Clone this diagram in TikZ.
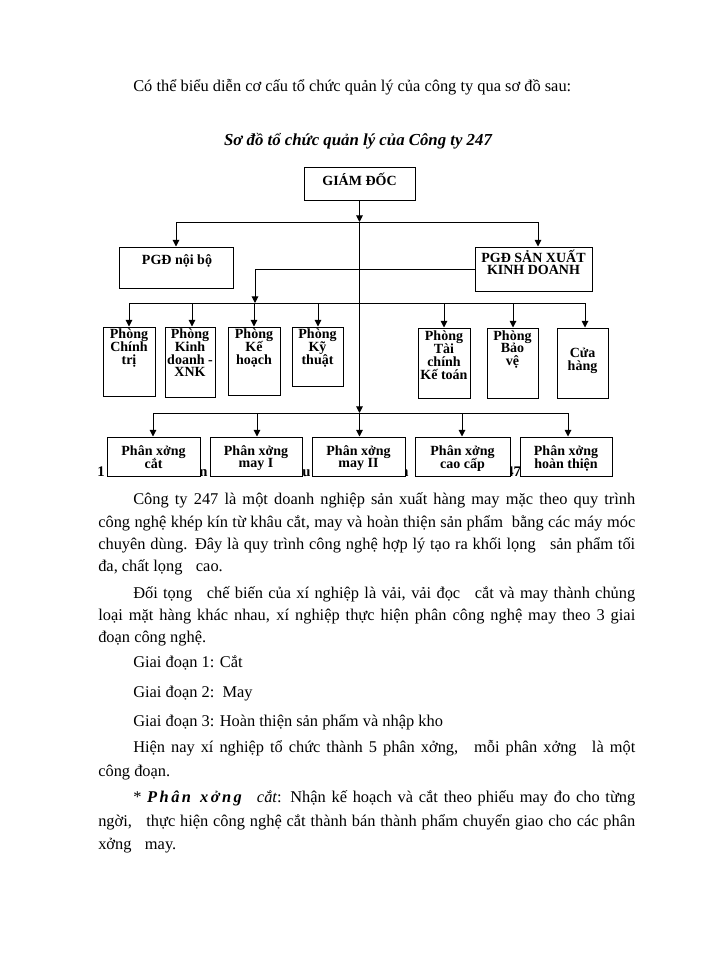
\documentclass[tikz,border=0pt]{standalone}
\usepackage{fontspec}
\setmainfont{Liberation Serif}
\usetikzlibrary{arrows.meta,fit}
\newcommand{\tb}[1]{\begin{tabular}[t]{@{}c@{}}#1\end{tabular}}
\tikzset{
  box/.style={draw, line width=0.75pt, fill=white, inner sep=0pt},
  ln/.style={line width=0.75pt},
  arr/.style={line width=0.75pt, -{Triangle[length=5pt,width=5pt]}},
  bt/.style={font=\fontsize{10.5}{8.25}\selectfont\bfseries, anchor=base, inner sep=0pt},
  body/.style={font=\fontsize{12.3}{14}\selectfont, anchor=base west, inner sep=0pt},
  hid/.style={font=\fontsize{11}{13}\selectfont\bfseries, anchor=base west, inner sep=0pt},
}
\begin{document}
\begin{tikzpicture}[x=0.75pt,y=-0.75pt]
\fill[white] (0,0) rectangle (700,960);
\useasboundingbox (0,0) rectangle (700,960);

% heading
\node[body] (intro) at (133,91) {Có thể biểu diễn cơ cấu tổ chức quản lý của công ty qua sơ đồ sau:};
\node[font=\fontsize{12.6}{14}\selectfont\bfseries\itshape, anchor=base, inner sep=0pt] (title) at (358,145) {Sơ đồ tổ chức quản lý của Công ty 247};

% caption hidden behind the bottom row
\node[hid] (h1) at (97,476) {1};
\node[hid] (h2) at (199,476) {n};
\node[hid] (h3) at (302,476) {u};
\node[hid] (h4) at (400,476) {n};
\node[hid] (h5) at (506,476) {47};

% connector junctions
\coordinate (j1) at (359.5,222);
\coordinate (jb) at (359.5,413);
\coordinate (tl) at (176,222);
\coordinate (tr) at (538,222);
\coordinate (mj) at (255,303);
\coordinate (m1) at (129,303);
\coordinate (m2) at (192,303);
\coordinate (m3) at (254,303);
\coordinate (m4) at (318,303);
\coordinate (m5) at (444,303);
\coordinate (m6) at (513,303);
\coordinate (m7) at (585,303);
\coordinate (n1) at (153,413);
\coordinate (n2) at (257,413);
\coordinate (n4) at (462,413);
\coordinate (n5) at (568,413);

% boxes
\node[box, fit={(304,167) (415,200)}] (gd) {};
\node[box, fit={(119,247) (233,288)}] (pn) {};
\node[box, fit={(475,247) (592,291)}] (ps) {};
\node[box, fit={(103,327) (155,396)}] (c1) {};
\node[box, fit={(165,327) (215,397)}] (c2) {};
\node[box, fit={(228,327) (280,395)}] (c3) {};
\node[box, fit={(292,327) (343,386)}] (c4) {};
\node[box, fit={(418,328) (470,398)}] (c5) {};
\node[box, fit={(487,328) (538,398)}] (c6) {};
\node[box, fit={(557,328) (608,398)}] (c7) {};
\node[box, fit={(107,437) (200,476)}] (b1) {};
\node[box, fit={(210,437) (302,476)}] (b2) {};
\node[box, fit={(312,437) (405,476)}] (b3) {};
\node[box, fit={(415,437) (510,476)}] (b4) {};
\node[box, fit={(520,437) (612,476)}] (b5) {};

% box texts
\node[bt] (gdt) at (359.5,185) {GIÁM ĐỐC};
\node[bt] (pnt) at (177,264) {PGĐ nội bộ};
\node[bt] (pst) at (533.5,262) {\tb{PGĐ SẢN XUẤT\\KINH DOANH}};
\node[bt] (c1t) at (129,338) {\tb{Phòng\\Chính\\trị}};
\node[bt] (c2t) at (190,338) {\tb{Phòng\\Kinh\\doanh -\\XNK}};
\node[bt] (c3t) at (254,338) {\tb{Phòng\\Kế\\hoạch}};
\node[bt] (c4t) at (317.5,338) {\tb{Phòng\\Kỹ\\thuật}};
\node[bt] (c5t) at (444,340) {\tb{Phòng\\Tài\\chính\\Kế toán}};
\node[bt] (c6t) at (512.5,340) {\tb{Phòng\\Bảo\\vệ}};
\node[bt] (c7t) at (582.5,357) {\tb{Cửa\\hàng}};
\node[bt] (b1t) at (153.5,455) {\tb{Phân xởng\\cắt}};
\node[bt] (b2t) at (256,455) {\tb{Phân xởng\\may I}};
\node[bt] (b3t) at (358.5,455) {\tb{Phân xởng\\may II}};
\node[bt] (b4t) at (462.5,455) {\tb{Phân xởng\\cao cấp}};
\node[bt] (b5t) at (566,455) {\tb{Phân xởng\\hoàn thiện}};

% connectors
\draw[arr] (gd.south) -- (j1);
\draw[arr] (j1) -- (jb);
\draw[ln] (tl) -- (tr);
\draw[arr] (tl) -- (pn.north);
\draw[arr] (tr) -- (tr |- ps.north);
\draw[arr] (ps.west) -| (mj);
\draw[ln] (m1) -- (m7);
\draw[arr] (m1) -- (m1 |- c1.north);
\draw[arr] (m2) -- (m2 |- c2.north);
\draw[arr] (m3) -- (m3 |- c3.north);
\draw[arr] (m4) -- (m4 |- c4.north);
\draw[arr] (m5) -- (m5 |- c5.north);
\draw[arr] (m6) -- (m6 |- c6.north);
\draw[arr] (m7) -- (m7 |- c7.north);
\draw[ln] (n1) -- (n5);
\draw[arr] (n1) -- (n1 |- b1.north);
\draw[arr] (n2) -- (n2 |- b2.north);
\draw[arr] (jb) -- (jb |- b3.north);
\draw[arr] (n4) -- (n4 |- b4.north);
\draw[arr] (n5) -- (n5 |- b5.north);

% body text
\node[body] (p1a) at (133,504) {\makebox[376.5pt][s]{Công ty 247 là một doanh nghiệp sản xuất hàng may mặc theo quy trình}};
\node[body] (p1b) at (98,527) {\makebox[402.75pt][s]{công nghệ khép kín từ khâu cắt, may và hoàn thiện sản phẩm\ \ bằng các máy móc}};
\node[body] (p1c) at (98,549) {\makebox[402.75pt][s]{chuyên dùng. Đây là quy trình công nghệ hợp lý tạo ra khối lọng\hspace{7pt} sản phẩm tối}};
\node[body] (p1d) at (98,571) {đa, chất lọng\hspace{7pt} cao.};
\node[body] (p2a) at (133,598) {\makebox[376.5pt][s]{Đối tọng\hspace{7pt} chế biến của xí nghiệp là vải, vải đọc\hspace{7pt} cắt và may thành chủng}};
\node[body] (p2b) at (98,620) {\makebox[402.75pt][s]{loại mặt hàng khác nhau, xí nghiệp thực hiện phân công nghệ may theo 3 giai}};
\node[body] (p2c) at (98,642) {đoạn công nghệ.};
\node[body] (g1) at (133,667) {Giai đoạn 1: Cắt};
\node[body] (g2) at (133,697) {Giai đoạn 2:\ \ May};
\node[body] (g3) at (133,726) {Giai đoạn 3: Hoàn thiện sản phẩm và nhập kho};
\node[body] (p3a) at (133,752) {\makebox[376.5pt][s]{Hiện nay xí nghiệp tổ chức thành 5 phân xởng,\hspace{7pt} mỗi phân xởng\hspace{7pt} là một}};
\node[body] (p3b) at (98,776) {công đoạn.};
\node[body] (p4a) at (133,802) {\makebox[376.5pt][s]{* {\bfseries\itshape\addfontfeature{LetterSpace=15}Phân xởng}\hspace{7pt} {\itshape cắt}: Nhận kế hoạch và cắt theo phiếu may đo cho từng}};
\node[body] (p4b) at (98,826) {\makebox[402.75pt][s]{ngời,\hspace{7pt} thực hiện công nghệ cắt thành bán thành phẩm chuyển giao cho các phân}};
\node[body] (p4c) at (98,849) {xởng\hspace{7pt} may.};
\end{tikzpicture}
\end{document}
